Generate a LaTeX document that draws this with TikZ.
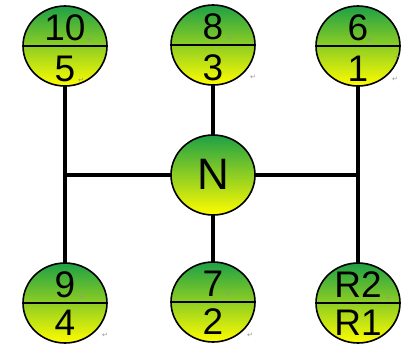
\documentclass[tikz,border=0pt]{standalone}
\usepackage{fontspec}
\setmainfont{Liberation Sans}
\newfontfamily\markfont{DejaVu Sans}
\usetikzlibrary{shapes.geometric}
\definecolor{knobtop}{RGB}{30,160,70}
\definecolor{knobmid}{RGB}{185,222,48}
\definecolor{knobbot}{RGB}{255,252,0}
\definecolor{markgray}{RGB}{150,150,150}
\begin{document}
\begin{tikzpicture}[x=1pt,y=-1pt,
  knob/.style={ellipse,draw=black,line width=1.6pt,minimum width=84pt,minimum height=80pt,
    inner sep=0pt,top color=knobtop,middle color=knobmid,bottom color=knobbot},
  gear/.style={font=\fontsize{37}{37}\selectfont,inner sep=0pt},
  rod/.style={line width=4.5pt,black},
  divider/.style={line width=1.6pt,black},
  ret/.style={font=\markfont\fontsize{7}{7}\selectfont,text=markgray,inner sep=0pt}]
  % canvas
  \fill[white] (0,0) rectangle (406,343);
  \useasboundingbox (0,0) rectangle (406,343);

  % shift-gate rods
  \coordinate (jl) at (65,175);
  \coordinate (jr) at (358,175);
  \coordinate (tl) at (65,86);
  \coordinate (bl) at (65,263);
  \coordinate (tm) at (213,85);
  \coordinate (bm) at (213,262);
  \coordinate (tr) at (358,86);
  \coordinate (br) at (358,263);
  \draw[rod] (tl) -- (bl);
  \draw[rod] (tr) -- (br);
  \draw[rod] (jl) -- (jr);
  \draw[rod] (tm) -- (bm);

  % gear knobs
  \node[knob] (t1) at (65,46) {};
  \node[knob] (t2) at (213,45) {};
  \node[knob] (t3) at (358,46) {};
  \node[knob] (n)  at (213,175) {};
  \node[knob] (b1) at (65,303) {};
  \node[knob] (b2) at (213,302) {};
  \node[knob] (b3) at (358,303) {};

  \foreach \k in {t1,t2,t3,b1,b2,b3}
    \draw[divider] (\k.west) -- (\k.east);

  % gear labels (yshift is upward on the page)
  \node[gear] (t1u) at ([yshift=18pt]t1.center) {10};
  \node[gear] (t1l) at ([yshift=-23pt]t1.center) {5};
  \node[gear] (t2u) at ([yshift=18pt]t2.center) {8};
  \node[gear] (t2l) at ([yshift=-23pt]t2.center) {3};
  \node[gear] (t3u) at ([yshift=18pt]t3.center) {6};
  \node[gear] (t3l) at ([yshift=-23pt]t3.center) {1};
  \node[gear,font=\fontsize{44}{44}\selectfont] (nl) at ([yshift=1pt]n.center) {N};
  \node[gear] (b1u) at ([yshift=18pt]b1.center) {9};
  \node[gear] (b1l) at ([yshift=-20pt]b1.center) {4};
  \node[gear] (b2u) at ([yshift=18pt]b2.center) {7};
  \node[gear] (b2l) at ([yshift=-20pt]b2.center) {2};
  \node[gear] (b3u) at ([yshift=18pt]b3.center) {R2};
  \node[gear] (b3l) at ([yshift=-20pt]b3.center) {R1};

  % paragraph marks
  \node[ret] (r1) at (90,40) {↵};
  \node[ret] (r2) at (81,80) {↵};
  \node[ret] (r3) at (230,38) {↵};
  \node[ret] (r4) at (253,77) {↵};
  \node[ret] (r5) at (370,40) {↵};
  \node[ret] (r6) at (398,57) {↵};
  \node[ret] (r7) at (395,79) {↵};
  \node[ret] (r8) at (82,297) {↵};
  \node[ret] (r9) at (105,335) {↵};
  \node[ret] (r10) at (229,294) {↵};
  \node[ret] (r11) at (250,335) {↵};
  \node[ret] (r12) at (389,298) {↵};
\end{tikzpicture}
\end{document}
